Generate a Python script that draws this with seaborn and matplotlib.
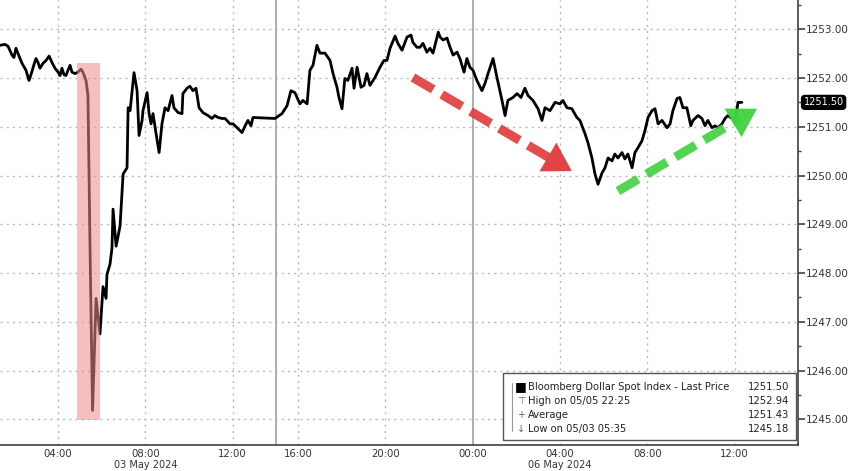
import numpy as np
import pandas as pd
import matplotlib
matplotlib.use('Agg')
import matplotlib.pyplot as plt
from matplotlib.patches import Rectangle, FancyBboxPatch
import seaborn as sns

# Bloomberg Dollar Spot Index, intraday. x = compressed session hours
# (03 May 00:00 = 0, weekend gap removed: 05 May 16:00 -> 15, 06 May 00:00 -> 23)
hours = [
    1.34, 1.57, 1.71, 1.89, 1.98, 2.07, 2.21, 2.35, 2.53, 2.67, 2.76, 2.90, 2.99, 3.08, 3.17,
    3.31, 3.45, 3.59, 3.72, 3.86, 4.00, 4.09, 4.18, 4.27, 4.36, 4.46, 4.55, 4.64, 4.78, 4.91,
    5.05, 5.14, 5.28, 5.37, 5.46, 5.58, 5.74, 5.92, 6.06, 6.20, 6.24, 6.38, 6.47, 6.52, 6.66,
    6.84, 6.98, 7.16, 7.21, 7.30, 7.48, 7.62, 7.71, 7.85, 7.89, 8.08, 8.17, 8.26, 8.35, 8.49,
    8.63, 8.76, 8.90, 9.04, 9.22, 9.31, 9.50, 9.68, 9.72, 9.91, 10.04, 10.18, 10.32, 10.46,
    10.64, 10.87, 11.05, 11.19, 11.33, 11.51, 11.65, 11.88, 12.02, 12.20, 12.43, 12.57, 12.70,
    12.84, 12.93, 13.94, 14.26, 14.49, 14.67, 14.85, 15.08, 15.22, 15.41, 15.54, 15.68, 15.86,
    16.00, 16.23, 16.46, 16.60, 16.78, 16.87, 17.01, 17.14, 17.28, 17.47, 17.56, 17.70, 17.88,
    18.02, 18.15, 18.29, 18.52, 18.75, 18.93, 19.07, 19.21, 19.44, 19.57, 19.76, 19.99, 20.17,
    20.26, 20.44, 20.58, 20.72, 20.90, 21.04, 21.18, 21.42, 21.50, 21.64, 21.82, 21.96, 22.10,
    22.28, 22.41, 22.60, 22.73, 22.87, 23.01, 23.19, 23.42, 23.56, 23.70, 23.93, 24.11, 24.34,
    24.48, 24.61, 24.84, 25.03, 25.21, 25.39, 25.53, 25.76, 25.99, 26.17, 26.31, 26.54, 26.77,
    27.00, 27.13, 27.32, 27.54, 27.77, 27.91, 28.14, 28.28, 28.46, 28.60, 28.74, 28.92, 29.06,
    29.20, 29.38, 29.51, 29.65, 29.84, 29.97, 30.11, 30.30, 30.43, 30.57, 30.75, 30.89, 31.03,
    31.21, 31.35, 31.49, 31.67, 31.90, 32.04, 32.17, 32.36, 32.49, 32.63, 32.81, 32.99, 33.09,
    33.32, 33.50, 33.64, 33.77, 33.96, 34.10, 34.23, 34.42, 34.56, 34.69, 34.88, 35.01, 35.10,
    35.15, 35.33,
]
price = [
    1252.67, 1252.69, 1252.65, 1252.47, 1252.42, 1252.61, 1252.45, 1252.30, 1252.16, 1251.95,
    1252.07, 1252.28, 1252.40, 1252.32, 1252.20, 1252.30, 1252.36, 1252.45, 1252.32, 1252.20,
    1252.12, 1252.05, 1252.20, 1252.07, 1252.05, 1252.16, 1252.26, 1252.12, 1252.09, 1252.12,
    1252.18, 1252.12, 1251.95, 1251.64, 1248.65, 1245.18, 1247.48, 1246.75, 1247.72, 1247.48,
    1247.97, 1248.18, 1248.51, 1249.31, 1248.55, 1248.96, 1250.03, 1250.16, 1251.39, 1251.33,
    1252.11, 1251.74, 1250.82, 1251.13, 1251.33, 1251.70, 1251.27, 1251.06, 1251.27, 1250.86,
    1250.47, 1251.06, 1251.39, 1251.33, 1251.64, 1251.39, 1251.29, 1251.27, 1251.68, 1251.79,
    1251.83, 1251.74, 1251.79, 1251.39, 1251.29, 1251.23, 1251.17, 1251.23, 1251.19, 1251.17,
    1251.17, 1251.06, 1251.06, 1250.98, 1250.88, 1251.02, 1251.13, 1251.02, 1251.19, 1251.17,
    1251.27, 1251.43, 1251.74, 1251.70, 1251.47, 1251.54, 1251.47, 1252.16, 1252.26, 1252.67,
    1252.51, 1252.51, 1252.36, 1252.09, 1251.81, 1251.60, 1251.37, 1251.99, 1251.95, 1252.20,
    1251.79, 1252.22, 1251.81, 1251.85, 1252.09, 1251.85, 1252.01, 1252.22, 1252.36, 1252.36,
    1252.61, 1252.86, 1252.71, 1252.57, 1252.84, 1252.88, 1252.73, 1252.63, 1252.63, 1252.71,
    1252.53, 1252.61, 1252.51, 1252.94, 1252.84, 1252.78, 1252.82, 1252.63, 1252.47, 1252.53,
    1252.40, 1252.12, 1252.40, 1252.22, 1252.16, 1251.95, 1251.74, 1251.89, 1252.09, 1252.40,
    1252.01, 1251.54, 1251.23, 1251.54, 1251.60, 1251.68, 1251.60, 1251.79, 1251.64, 1251.54,
    1251.37, 1251.13, 1251.39, 1251.33, 1251.50, 1251.47, 1251.54, 1251.39, 1251.37, 1251.19,
    1251.13, 1250.86, 1250.67, 1250.36, 1250.03, 1249.82, 1250.05, 1250.16, 1250.36, 1250.30,
    1250.44, 1250.36, 1250.47, 1250.34, 1250.44, 1250.16, 1250.47, 1250.57, 1250.71, 1250.92,
    1251.19, 1251.33, 1251.37, 1251.06, 1251.13, 1250.98, 1251.06, 1251.33, 1251.58, 1251.60,
    1251.39, 1251.39, 1251.02, 1251.13, 1251.23, 1251.17, 1251.02, 1251.13, 1250.98, 1251.02,
    1250.98, 1251.06, 1251.17, 1251.23, 1251.17, 1251.17, 1251.33, 1251.50, 1251.50,
]

x_ticks = [4, 8, 12, 15, 19, 23, 27, 31, 35]
x_tick_labels = ['04:00', '08:00', '12:00', '16:00', '20:00', '00:00', '04:00', '08:00', '12:00']
x_minor = [2, 6, 10, 17, 21, 25, 29, 33, 37]
date_labels = [(8, '03 May 2024'), (27, '06 May 2024')]
session_lines = [14.0, 23]
y_ticks = [1245, 1246, 1247, 1248, 1249, 1250, 1251, 1252, 1253]

legend_rows = [
    ('Bloomberg Dollar Spot Index - Last Price', '1251.50'),
    ('High on 05/05 22:25', '1252.94'),
    ('Average', '1251.43'),
    ('Low on 05/03 05:35', '1245.18'),
]
last_price = 1251.50

df = pd.DataFrame({'hours': hours, 'price': price})

sns.set_style('white')
plt.rcParams['font.family'] = ['DejaVu Sans']

fig = plt.figure(figsize=(8.48, 4.71), dpi=100)
ax = fig.add_axes([0.0, 0.055, 0.941, 0.945])

# grid
for xt in x_ticks:
    if xt != 23:
        ax.axvline(xt, color='#b8b8b8', lw=1.0, ls=(0, (1.5, 3)), zorder=0)
for yt in y_ticks:
    ax.axhline(yt, color='#b8b8b8', lw=1.0, ls=(0, (1.5, 3)), zorder=0)
for sl in session_lines:
    ax.axvline(sl, color='#a0a0a0', lw=1.2, zorder=0)

# highlighted crash window
ax.add_patch(Rectangle((4.87, 1244.98), 1.05, 1252.30 - 1244.98,
                       facecolor='#f08c8c', alpha=0.55, edgecolor='none', zorder=3))

sns.lineplot(data=df, x='hours', y='price', color='black', lw=2.0, ax=ax, zorder=2)


# dashed arrows
def dashed_arrow(x0, y0, x1, y1, color):
    fx = x0 + (x1 - x0) * 0.88
    fy = y0 + (y1 - y0) * 0.88
    ax.plot([x0, fx], [y0, fy], color=color, lw=6.5, ls=(0, (2.6, 1.1)),
            solid_capstyle='butt', dash_capstyle='butt', alpha=0.9, zorder=4)
    ax.annotate('', xy=(x1, y1), xytext=(x0, y0),
                arrowprops=dict(arrowstyle='-|>,head_length=1.0,head_width=0.6',
                                mutation_scale=20, color=color, lw=0, alpha=0.95,
                                shrinkA=0, shrinkB=0),
                zorder=4)


dashed_arrow(20.26, 1252.01, 27.54, 1250.09, '#e03a3a')
dashed_arrow(29.65, 1249.68, 36.02, 1251.37, '#3fd23f')

ax.set_xlim(1.34, 37.9)
ax.set_ylim(1244.47, 1253.60)

# axes cosmetics
for side in ['top', 'left']:
    ax.spines[side].set_visible(False)
ax.spines['bottom'].set_color('#404040')
ax.spines['right'].set_color('#404040')
ax.spines['bottom'].set_linewidth(1.2)
ax.spines['right'].set_linewidth(1.2)

ax.set_xticks(x_ticks)
ax.set_xticklabels(x_tick_labels)
ax.set_xticks(x_minor, minor=True)
ax.yaxis.tick_right()
ax.set_yticks(y_ticks)
ax.set_yticklabels([f'{v:.2f}' for v in y_ticks])
ax.set_yticks([v + 0.5 for v in y_ticks], minor=True)
ax.tick_params(axis='x', which='major', direction='out', length=2.5, width=1.0,
               color='#404040', labelsize=7.3, labelcolor='#333333', pad=0.5)
ax.tick_params(axis='x', which='minor', direction='out', length=2, width=1.0, color='#404040')
ax.tick_params(axis='y', which='major', direction='out', length=5, width=1.2,
               color='#404040', labelsize=7.5, labelcolor='#333333', pad=1)
ax.tick_params(axis='y', which='minor', direction='out', length=2, width=1.0, color='#404040')
ax.set_xlabel('')
ax.set_ylabel('')

for xd, lab in date_labels:
    fig.text(ax.transData.transform((xd, 0))[0] / fig.bbox.width, 1 - 465 / 471, lab,
             ha='center', va='center', fontsize=7.0, color='#333333')

# last price tag
ax.text(1.007, last_price, f'{last_price:.2f}', transform=ax.get_yaxis_transform(),
        ha='left', va='center', fontsize=7, color='white',
        bbox=dict(boxstyle='round,pad=0.2,rounding_size=0.35', fc='black', ec='black'),
        clip_on=False)

# Bloomberg-style legend box
fig.patches.append(FancyBboxPatch((503 / 848, 1 - 440 / 471), 293 / 848, 67 / 471,
                                  boxstyle='square,pad=0', transform=fig.transFigure,
                                  fc='white', ec='#555555', lw=1.0, zorder=10))
row_y = [387, 401, 415, 429]
markers = ['\u25a0', '\u22a4', '+', '\u2193']
for (lab, val), ry, mk in zip(legend_rows, row_y, markers):
    yf = 1 - ry / 471
    fig.text(521 / 848, yf, mk, ha='center', va='center', fontsize=7 if mk != '\u25a0' else 9,
             color='black' if mk == '\u25a0' else '#666666', zorder=11)
    fig.text(528 / 848, yf, lab, ha='left', va='center', fontsize=7.2, color='#222222', zorder=11)
    fig.text(789 / 848, yf, val, ha='right', va='center', fontsize=7.2, color='#222222', zorder=11)
fig.lines.append(plt.Line2D([512 / 848, 512 / 848], [1 - 383 / 471, 1 - 431 / 471],
                            transform=fig.transFigure, color='#999999', lw=0.8, zorder=11))

fig.savefig('out.png', dpi=100)
